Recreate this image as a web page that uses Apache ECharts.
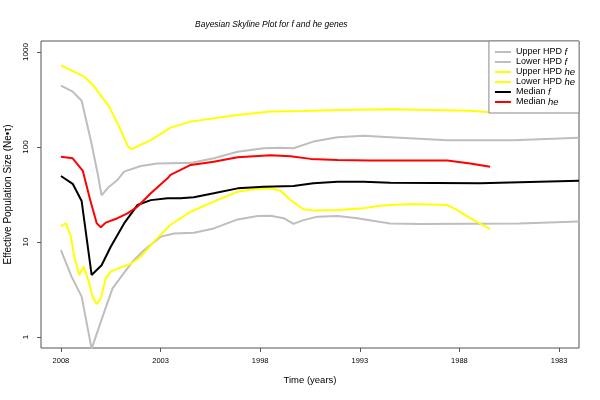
<!DOCTYPE html>
<html>
<head>
<meta charset="utf-8">
<script src="https://cdn.jsdelivr.net/npm/echarts@6/dist/echarts.min.js"></script>
<style>
  html, body { margin: 0; padding: 0; background: #fff; }
  #chart1 { width: 600px; height: 400px; }
</style>
</head>
<body>
<div id="chart1"></div>
<script>
// values (year, Ne*tau)
var upperFYears  = [2008, 2007.41, 2006.96, 2006.5, 2006.16, 2005.96, 2005.6, 2005.16, 2004.83, 2003.99, 2003.16, 2002.0, 2001.49, 2000.33, 1999.13, 1997.83, 1996.98, 1996.33, 1995.33, 1994.12, 1992.82, 1991.47, 1988.61, 1985.3, 1982];
var upperFValues = [442, 383, 307, 118, 53, 31, 38, 45, 55, 63, 67, 68, 68, 76, 89, 97, 98, 97, 114, 127, 131, 127, 118, 118, 125];

var lowerFYears  = [2008, 2007.46, 2006.96, 2006.46, 2005.91, 2005.41, 2004.91, 2004.41, 2003.83, 2002.99, 2002.32, 2001.32, 2000.33, 1999.13, 1998.13, 1997.48, 1996.82, 1996.33, 1995.83, 1995.12, 1994.12, 1993.12, 1992.12, 1991.47, 1990, 1985, 1982];
var lowerFValues = [8.2, 4.3, 2.66, 0.75, 1.64, 3.25, 4.5, 6.2, 8.2, 11.4, 12.3, 12.5, 13.9, 17.3, 18.8, 18.9, 17.8, 15.5, 17, 18.5, 18.8, 17.8, 16.4, 15.7, 15.5, 15.7, 16.4];

var upperHeYears  = [2008, 2006.83, 2006.4, 2005.58, 2005.08, 2004.63, 2004.46, 2003.49, 2002.5, 2001.5, 1999.13, 1997.48, 1995.83, 1994.12, 1991.47, 1989.46, 1987.46, 1986.46];
var upperHeValues = [724, 550, 450, 266, 164, 101, 95, 118, 160, 185, 217, 236, 239, 245, 249, 245, 241, 232];

var lowerHeYears  = [2008, 2007.75, 2007.5, 2007.33, 2007.08, 2006.86, 2006.63, 2006.41, 2006.2, 2006, 2005.75, 2005.5, 2005, 2004.5, 2004, 2003.33, 2002.5, 2001.5, 2000.33, 1999.13, 1998.33, 1997.48, 1996.98, 1996.48, 1995.83, 1995.33, 1994.12, 1992.82, 1992.12, 1991.47, 1990.31, 1988.61, 1988.11, 1987.46, 1986.46];
var lowerHeValues = [14.7, 15.7, 11.4, 7, 4.5, 5.5, 4, 2.66, 2.22, 2.55, 4.15, 4.87, 5.4, 5.9, 7, 10.1, 15.2, 20.8, 26.6, 33.9, 35.9, 36.7, 34.7, 27.7, 22.1, 21.4, 21.7, 22.6, 23.9, 24.5, 25.1, 24.5, 21.7, 17.8, 13.7];

var medianFYears  = [2008, 2007.41, 2006.96, 2006.46, 2005.96, 2005.5, 2004.83, 2004.16, 2003.49, 2002.65, 2002.0, 2001.33, 2000.33, 1999.13, 1997.83, 1996.33, 1995.33, 1994.12, 1992.82, 1991.47, 1986.96, 1982];
var medianFValues = [49.5, 41, 27, 4.5, 5.7, 8.9, 15.7, 24.5, 27.6, 28.8, 28.8, 29.6, 32.6, 36.7, 38.2, 38.8, 41.5, 43.1, 43, 42, 41.5, 44.2];

var medianHeYears  = [2008, 2007.41, 2006.9, 2006.53, 2006.2, 2006, 2005.75, 2005.16, 2004.66, 2004.16, 2003.49, 2002.65, 2002.5, 2001.49, 2000.33, 1999.13, 1997.48, 1996.48, 1995.47, 1994.12, 1992.47, 1988.61, 1987.46, 1986.46];
var medianHeValues = [79, 76, 56, 27.7, 15.7, 14.3, 16, 17.8, 20, 23.5, 32.6, 46.8, 51, 64.7, 70, 78, 82, 80, 75, 73, 72, 72, 67, 62];

var xTicks = [2008, 2003, 1998, 1993, 1988, 1983];

function pairs(xs, ys) {
  return xs.map(function (x, i) { return [x, ys[i]]; });
}

function chart() {
  var myChart = echarts.init(document.getElementById('chart1'));

  function line(name, xs, ys, color) {
    return {
      name: name,
      type: 'line',
      data: pairs(xs, ys),
      symbol: 'none',
      clip: true,
      lineStyle: { color: color, width: 2 },
      itemStyle: { color: color }
    };
  }

  var option = {
    animation: false,
    backgroundColor: '#fff',
    textStyle: { fontFamily: 'Liberation Sans, Arial, sans-serif' },
    title: {
      text: 'Bayesian Skyline Plot for f and he genes',
      left: 190,
      top: 15,
      textStyle: { fontSize: 8.5, fontStyle: 'italic', fontWeight: 'normal', color: '#000' }
    },
    legend: {
      orient: 'vertical',
      right: 21,
      top: 41,
      padding: [6, 4, 6, 6],
      itemGap: 0,
      itemWidth: 16,
      itemHeight: 2,
      icon: 'rect',
      borderColor: '#888',
      borderWidth: 1,
      backgroundColor: '#fff',
      textStyle: {
        fontSize: 9,
        color: '#000',
        lineHeight: 10,
        rich: {
          n: { fontSize: 9, color: '#000', lineHeight: 10 },
          i: { fontSize: 9.5, fontStyle: 'italic', color: '#000', lineHeight: 10 }
        }
      },
      formatter: function (name) {
        var parts = name.split('|');
        return '{n|' + parts[0] + ' }{i|' + parts[1] + '}';
      }
    },
    grid: {
      left: 41,
      right: 21,
      top: 41,
      bottom: 52,
      outerBoundsMode: 'none',
      containLabel: false,
      show: true,
      borderColor: '#555',
      borderWidth: 1
    },
    xAxis: {
      type: 'value',
      min: 1982,
      max: 2009,
      inverse: true,
      name: 'Time (years)',
      nameLocation: 'middle',
      nameGap: 27,
      nameTextStyle: { fontSize: 9.5, color: '#000' },
      axisLine: { show: false },
      splitLine: { show: false },
      axisTick: { length: 4, lineStyle: { color: '#555' }, customValues: xTicks },
      axisLabel: {
        fontSize: 7.5, color: '#000', margin: 9, customValues: xTicks,
        formatter: function (v) { return String(Math.round(v)); }
      }
    },
    yAxis: {
      type: 'log',
      min: 0.766,
      max: 1306,
      name: 'Effective Population Size (Ne\u2022\u03c4)',
      nameLocation: 'middle',
      nameGap: 28,
      nameTextStyle: { fontSize: 10, color: '#000' },
      axisLine: { show: false },
      splitLine: { show: false },
      axisTick: { length: 4, lineStyle: { color: '#555' } },
      axisLabel: {
        fontSize: 8,
        color: '#000',
        rotate: 90,
        margin: 11,
        showMinLabel: false,
        showMaxLabel: false,
        formatter: function (v) {
          var e = Math.log10(v);
          if (Math.abs(e - Math.round(e)) > 1e-6) return '';
          return String(Math.round(v));
        }
      }
    },
    series: [
      line('Upper HPD|f', upperFYears, upperFValues, '#BEBEBE'),
      line('Lower HPD|f', lowerFYears, lowerFValues, '#BEBEBE'),
      line('Upper HPD|he', upperHeYears, upperHeValues, '#FFFF00'),
      line('Lower HPD|he', lowerHeYears, lowerHeValues, '#FFFF00'),
      line('Median|f', medianFYears, medianFValues, '#000000'),
      line('Median|he', medianHeYears, medianHeValues, '#FF0000')
    ]
  };

  myChart.setOption(option);
}
chart();
</script>
</body>
</html>
